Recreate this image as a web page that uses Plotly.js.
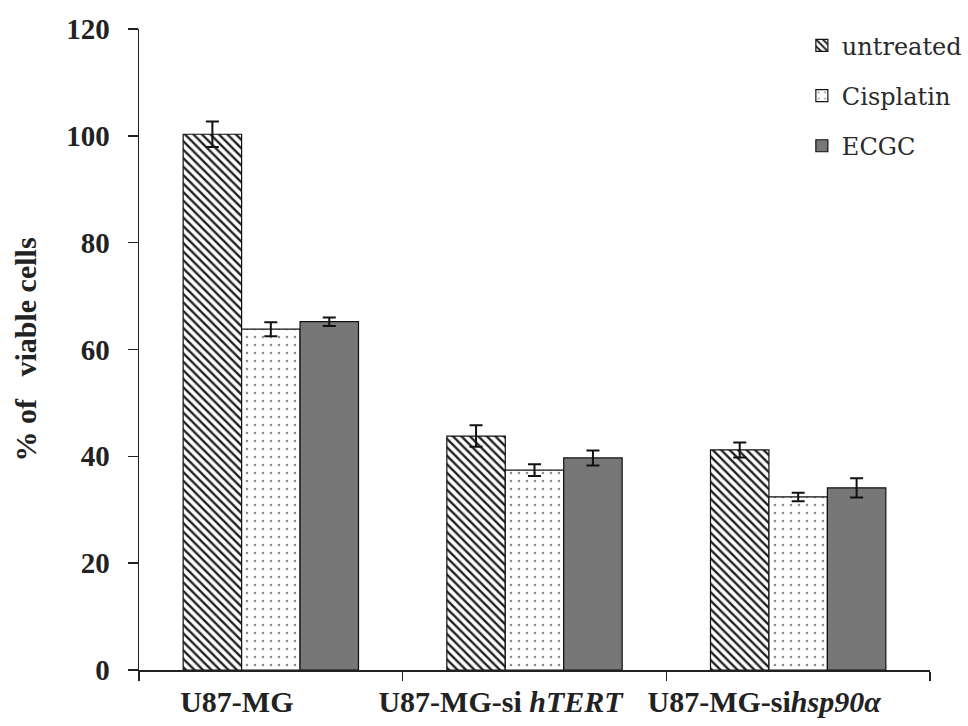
<!DOCTYPE html>
<html>
<head>
<meta charset="utf-8">
<script src="https://cdn.plot.ly/plotly-3.0.1.min.js"></script>
<style>html,body{margin:0;padding:0;background:#fff;}#chart{width:968px;height:726px;}</style>
</head>
<body>
<div id="chart"></div>
<script>
const categories = ["U87-MG", "U87-MG-si hTERT", "U87-MG-si hsp90α"];
const tickLabels = ["U87-MG", "U87-MG-si <i>hTERT</i>", "U87-MG-si<i>hsp90α</i>"];
const seriesNames = ["untreated", "Cisplatin", "ECGC"];
const untreated = [100.3, 43.8, 41.2];
const untreatedErr = [2.4, 2.0, 1.4];
const cisplatin = [63.8, 37.4, 32.4];
const cisplatinErr = [1.3, 1.1, 0.8];
const ecgc = [65.2, 39.7, 34.1];
const ecgcErr = [0.8, 1.4, 1.8];
const yTicks = [0, 20, 40, 60, 80, 100, 120];

const serif = "Liberation Serif";
const errStyle = (arr) => ({type: "data", array: arr, visible: true, color: "#111", thickness: 2, width: 6.5});

const traces = [
  {type: "bar", name: seriesNames[0], x: categories, y: untreated, error_y: errStyle(untreatedErr),
   legendgroup: "a",
   marker: {color: "#ffffff", line: {color: "#111", width: 1.2},
            pattern: {shape: "\\", fgcolor: "#222", bgcolor: "#ffffff", size: 6, solidity: 0.4}}},
  {type: "bar", name: seriesNames[1], x: categories, y: cisplatin, error_y: errStyle(cisplatinErr),
   legendgroup: "b",
   marker: {color: "#ffffff", line: {color: "#111", width: 1.2},
            pattern: {shape: ".", fgcolor: "#8a8a8a", bgcolor: "#ffffff", size: 8, solidity: 0.08}}},
  {type: "bar", name: seriesNames[2], x: categories, y: ecgc, error_y: errStyle(ecgcErr),
   legendgroup: "c",
   marker: {color: "#777777", line: {color: "#111", width: 1.2}}}
];

const layout = {
  width: 968, height: 726,
  font: {family: serif, color: "#222"},
  margin: {l: 139, r: 38, t: 29, b: 56, autoexpand: false},
  paper_bgcolor: "#ffffff", plot_bgcolor: "#ffffff",
  barmode: "group", bargap: 0.335, bargroupgap: 0,
  showlegend: true,
  legend: {x: 0.838, y: 1.009, xanchor: "left", yanchor: "top", bgcolor: "rgba(0,0,0,0)",
           traceorder: "grouped", tracegroupgap: 16,
           font: {family: "DejaVu Serif", size: 24, color: "#2a2a2a", weight: 400}},
  xaxis: {
    type: "category", tickmode: "array", tickvals: categories, ticktext: tickLabels,
    tickson: "boundaries", ticks: "outside", ticklen: 9, tickwidth: 1.5, tickcolor: "#222",
    showline: true, linecolor: "#222", linewidth: 1.5, showgrid: false, zeroline: false,
    tickfont: {family: serif, size: 30, color: "#222", weight: "bold"},
    ticklabelshift: -34, ticklabelstandoff: 4,
    fixedrange: true
  },
  yaxis: {
    range: [0, 120], tickmode: "array", tickvals: yTicks,
    ticks: "outside", ticklen: 10, tickwidth: 1.5, tickcolor: "#222",
    showline: true, linecolor: "#222", linewidth: 1.5, showgrid: false, zeroline: false,
    tickfont: {family: serif, size: 29, color: "#222", weight: "bold"},
    ticklabelstandoff: 12,
    title: {text: "% of\u00a0\u00a0 viable cells", standoff: 20,
            font: {family: serif, size: 30, color: "#222", weight: "bold"}},
    fixedrange: true
  }
};

Plotly.newPlot("chart", traces, layout, {displayModeBar: false, staticPlot: true});
</script>
</body>
</html>
